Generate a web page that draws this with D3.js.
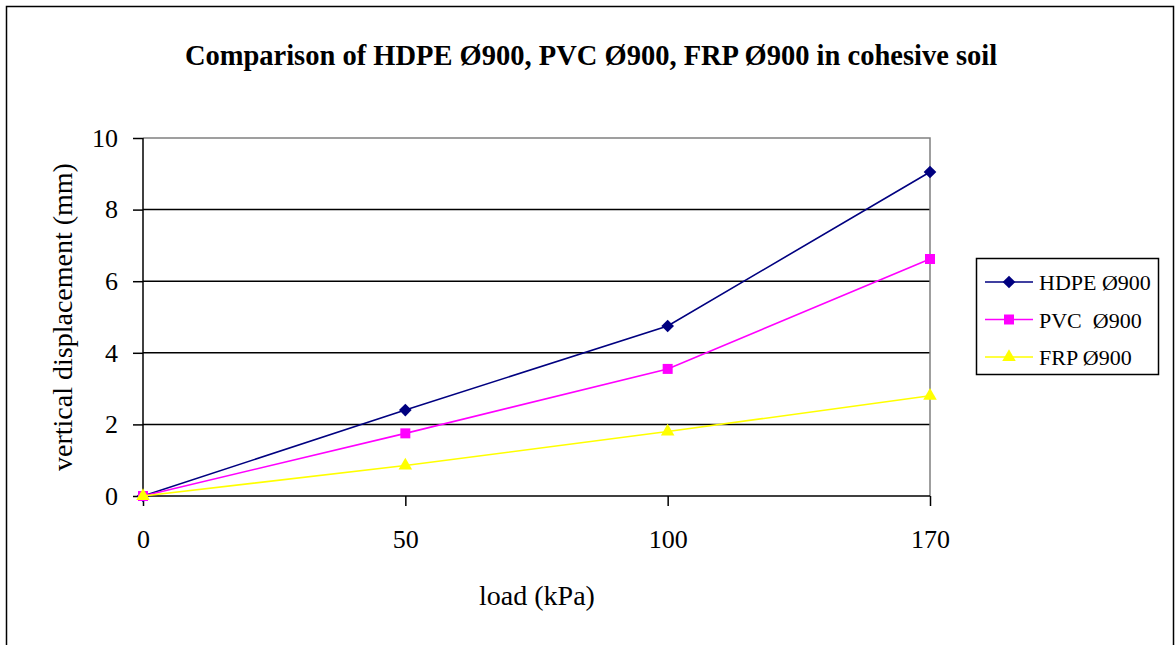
<!DOCTYPE html>
<html>
<head>
<meta charset="utf-8">
<script src="https://cdn.jsdelivr.net/npm/d3@7"></script>
<style>
  body { margin: 0; background: #fff; }
  text { font-family: "Liberation Serif", "Times New Roman", serif; }
</style>
</head>
<body>
<script>
// chart data
var loads = ["0", "50", "100", "170"];
var hdpe = [0, 2.4, 4.75, 9.05];
var pvc = [0, 1.75, 3.55, 6.62];
var frp = [0, 0.85, 1.8, 2.8];
var seriesNames = ["HDPE Ø900", "PVC  Ø900", "FRP Ø900"];
var yTicks = [0, 2, 4, 6, 8, 10];

var W = 1175, H = 645;
var plot = {left: 143, right: 930, top: 138, bottom: 496};

var svg = d3.select("body").append("svg")
    .attr("width", W)
    .attr("height", H);

// outer frame
svg.append("rect")
    .attr("x", 6.5).attr("y", 6.5)
    .attr("width", 1167).attr("height", 700)
    .attr("fill", "#fff")
    .attr("stroke", "#000")
    .attr("stroke-width", 1.5);

// scales
var x = d3.scalePoint().domain(loads).range([plot.left, plot.right]);
var y = d3.scaleLinear().domain([0, 10]).range([plot.bottom, plot.top]);

// gridlines
svg.append("g")
  .selectAll("line")
  .data(yTicks.filter(d => d > 0 && d < 10))
  .join("line")
    .attr("x1", plot.left).attr("x2", plot.right)
    .attr("y1", d => y(d)).attr("y2", d => y(d))
    .attr("stroke", "#000")
    .attr("stroke-width", 1.5);

// plot border top / right (gray)
svg.append("path")
    .attr("d", "M" + plot.left + "," + y(10) + "H" + plot.right + "V" + plot.bottom)
    .attr("fill", "none")
    .attr("stroke", "#808080")
    .attr("stroke-width", 1.5);

// y axis
var yAxis = svg.append("g")
    .attr("transform", "translate(" + plot.left + ",0)")
    .call(d3.axisLeft(y).tickValues(yTicks).tickSize(10).tickPadding(15));
yAxis.selectAll("path, line").attr("stroke", "#000").attr("stroke-width", 1.5);
yAxis.select(".domain").attr("d", "M0," + plot.top + "V" + plot.bottom);
yAxis.selectAll("text")
    .attr("font-family", "Liberation Serif")
    .attr("font-size", 26)
    .attr("fill", "#000");

// x axis
var xAxis = svg.append("g")
    .attr("transform", "translate(0," + plot.bottom + ")")
    .call(d3.axisBottom(x).tickSize(10).tickPadding(24));
xAxis.selectAll("path, line").attr("stroke", "#000").attr("stroke-width", 1.5);
xAxis.select(".domain").attr("d", "M" + plot.left + ",0H" + plot.right);
xAxis.selectAll("text")
    .attr("font-family", "Liberation Serif")
    .attr("font-size", 26)
    .attr("fill", "#000");

// title
svg.append("text")
    .attr("x", 591).attr("y", 65)
    .attr("text-anchor", "middle")
    .attr("font-weight", "bold")
    .attr("font-size", 28.5)
    .text("Comparison of HDPE Ø900, PVC Ø900, FRP Ø900 in cohesive soil");

// axis titles
svg.append("text")
    .attr("x", 537).attr("y", 605)
    .attr("text-anchor", "middle")
    .attr("font-size", 28)
    .text("load (kPa)");

svg.append("text")
    .attr("transform", "translate(72,317) rotate(-90)")
    .attr("text-anchor", "middle")
    .attr("font-size", 28)
    .text("vertical displacement (mm)");

// series
var series = [
  {name: seriesNames[0], values: hdpe, color: "#000080", marker: d3.symbolSquare, size: 80, rot: 45},
  {name: seriesNames[1], values: pvc, color: "#FF00FF", marker: d3.symbolSquare, size: 100, rot: 0},
  {name: seriesNames[2], values: frp, color: "#FFFF00", marker: d3.symbolTriangle, size: 80, rot: 0}
];

var line = d3.line()
    .x((d, i) => x(loads[i]))
    .y(d => y(d));

series.forEach(function(s) {
  svg.append("path")
      .datum(s.values)
      .attr("d", line)
      .attr("fill", "none")
      .attr("stroke", s.color)
      .attr("stroke-width", 1.6);
  svg.append("g")
    .selectAll("path")
    .data(s.values)
    .join("path")
      .attr("transform", (d, i) => "translate(" + x(loads[i]) + "," + y(d) + ") rotate(" + s.rot + ")")
      .attr("d", d3.symbol().type(s.marker).size(s.size))
      .attr("fill", s.color);
});

// legend
var legend = svg.append("g");
legend.append("rect")
    .attr("x", 976.5).attr("y", 258.5)
    .attr("width", 182).attr("height", 116)
    .attr("fill", "#fff")
    .attr("stroke", "#000")
    .attr("stroke-width", 1.5);

series.forEach(function(s, i) {
  var ly = 282 + i * 37.5;
  legend.append("line")
      .attr("x1", 985).attr("x2", 1033)
      .attr("y1", ly).attr("y2", ly)
      .attr("stroke", s.color)
      .attr("stroke-width", 1.6);
  legend.append("path")
      .attr("transform", "translate(1009," + ly + ") rotate(" + s.rot + ")")
      .attr("d", d3.symbol().type(s.marker).size(s.size))
      .attr("fill", s.color);
  legend.append("text")
      .attr("x", 1039).attr("y", ly + 8)
      .attr("font-size", 22)
      .attr("xml:space", "preserve")
      .style("white-space", "pre")
      .text(s.name);
});
</script>
</body>
</html>
